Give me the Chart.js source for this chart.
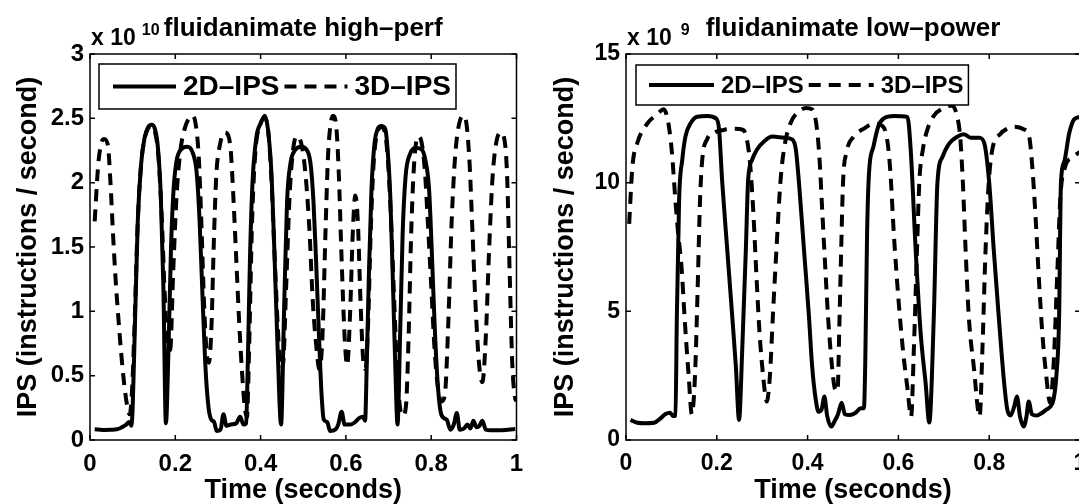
<!DOCTYPE html>
<html>
<head>
<meta charset="utf-8">
<title>fluidanimate IPS traces</title>
<script src="https://cdn.jsdelivr.net/npm/chart.js@4.4.1/dist/chart.umd.min.js"></script>
<style>
  html, body { margin: 0; padding: 0; background: #fff; overflow: hidden; }
  #wrap { position: relative; width: 1079px; height: 504px; overflow: hidden; background: #fff; }
  #hp { position: absolute; left: 0; top: 0; }
  #lp { position: absolute; left: 540px; top: 0; }
</style>
</head>
<body>
<div id="wrap">
  <canvas id="hp" width="540" height="504"></canvas>
  <canvas id="lp" width="560" height="504"></canvas>
</div>
<script>
// ---- tick values ----
const timeTicks = [0, 0.2, 0.4, 0.6, 0.8, 1];
const hpTicks = [0, 0.5, 1, 1.5, 2, 2.5, 3];   // x 10^10 instructions / second
const lpTicks = [0, 5, 10, 15];                 // x 10^9 instructions / second

// ---- high-perf configuration (IPS in units of 10^10) ----
const hpTime2D = [0.011,0.03,0.05,0.063,0.075,0.085,0.092,0.097,0.100,0.105,0.112,0.12,0.128,0.136,0.144,0.152,0.159,0.166,0.172,0.178,0.184,0.19,0.196,0.203,0.214,0.228,0.24,0.25,0.257,0.264,0.271,0.278,0.284,0.291,0.297,0.306,0.313,0.32,0.33,0.343,0.352,0.36,0.366,0.37,0.375,0.381,0.39,0.40,0.41,0.417,0.425,0.432,0.44,0.448,0.455,0.462,0.47,0.48,0.495,0.507,0.517,0.524,0.53,0.537,0.543,0.548,0.556,0.563,0.575,0.582,0.59,0.597,0.61,0.622,0.631,0.64,0.645,0.649,0.654,0.66,0.667,0.675,0.683,0.692,0.698,0.704,0.71,0.716,0.721,0.727,0.733,0.74,0.75,0.765,0.777,0.786,0.795,0.801,0.808,0.815,0.822,0.83,0.837,0.845,0.853,0.86,0.867,0.877,0.885,0.892,0.899,0.906,0.913,0.92,0.928,0.94,0.96,0.98,0.997];
const hpIps2D  = [0.083,0.078,0.08,0.083,0.10,0.12,0.14,0.11,0.25,0.85,1.70,2.15,2.35,2.43,2.45,2.42,2.28,1.90,1.20,0.13,0.70,1.50,1.95,2.17,2.26,2.28,2.24,2.08,1.70,1.10,0.55,0.25,0.16,0.14,0.07,0.08,0.20,0.11,0.12,0.13,0.18,0.12,0.13,0.60,1.40,2.00,2.35,2.46,2.52,2.42,2.10,1.50,0.70,0.12,1.00,1.85,2.15,2.25,2.28,2.26,2.15,1.85,1.40,0.80,0.35,0.16,0.14,0.07,0.08,0.12,0.22,0.12,0.12,0.14,0.17,0.18,0.15,0.60,1.30,1.95,2.30,2.42,2.44,2.42,2.25,1.90,1.25,0.55,0.12,0.80,1.60,2.05,2.22,2.27,2.26,2.18,1.95,1.50,0.90,0.45,0.22,0.17,0.155,0.08,0.12,0.21,0.08,0.09,0.12,0.09,0.15,0.10,0.11,0.15,0.08,0.075,0.075,0.08,0.085];

const hpTime3D = [0.011,0.019,0.026,0.033,0.042,0.048,0.054,0.06,0.066,0.073,0.08,0.087,0.093,0.098,0.104,0.112,0.12,0.128,0.136,0.144,0.152,0.16,0.168,0.175,0.182,0.188,0.195,0.203,0.212,0.222,0.232,0.241,0.248,0.255,0.261,0.267,0.273,0.279,0.285,0.29,0.296,0.305,0.315,0.322,0.33,0.336,0.343,0.35,0.357,0.363,0.368,0.373,0.38,0.388,0.398,0.41,0.418,0.425,0.432,0.44,0.447,0.453,0.46,0.468,0.476,0.484,0.492,0.50,0.507,0.515,0.522,0.53,0.538,0.545,0.552,0.558,0.564,0.57,0.577,0.583,0.59,0.597,0.603,0.61,0.616,0.622,0.628,0.634,0.64,0.646,0.652,0.658,0.665,0.673,0.683,0.692,0.699,0.706,0.713,0.72,0.727,0.734,0.741,0.747,0.753,0.76,0.769,0.777,0.785,0.792,0.80,0.808,0.816,0.824,0.832,0.84,0.848,0.856,0.865,0.875,0.883,0.89,0.897,0.904,0.912,0.92,0.928,0.936,0.944,0.953,0.963,0.972,0.978,0.984,0.99,0.996,1.0];
const hpIps3D  = [1.70,2.13,2.30,2.34,2.29,2.00,1.60,1.25,0.97,0.68,0.44,0.27,0.20,0.35,0.85,1.70,2.15,2.34,2.42,2.44,2.40,2.22,1.75,1.15,0.75,0.70,1.30,1.90,2.25,2.42,2.50,2.52,2.45,2.20,1.70,1.10,0.70,0.60,0.90,1.50,2.05,2.30,2.39,2.38,2.25,1.90,1.40,0.90,0.50,0.25,0.18,0.70,1.70,2.25,2.44,2.50,2.40,2.05,1.50,0.90,0.55,0.60,1.20,1.90,2.25,2.36,2.34,2.22,2.00,1.60,1.10,0.75,0.55,0.80,1.60,2.20,2.45,2.52,2.45,2.10,1.40,0.80,0.58,1.00,1.60,1.90,1.70,1.10,0.65,0.55,0.90,1.60,2.15,2.38,2.43,2.38,2.15,1.70,1.10,0.55,0.25,0.19,0.27,0.80,1.60,2.15,2.36,2.32,2.10,1.70,1.20,0.70,0.40,0.30,0.35,0.90,1.70,2.20,2.45,2.52,2.45,2.15,1.60,1.05,0.60,0.45,0.80,1.50,2.05,2.32,2.39,2.33,2.05,1.30,0.60,0.34,0.30];

// ---- low-power configuration (IPS in units of 10^9) ----
const lpTime2D = [0.010,0.025,0.042,0.062,0.076,0.087,0.097,0.104,0.109,0.112,0.117,0.124,0.131,0.142,0.157,0.179,0.198,0.205,0.212,0.223,0.234,0.242,0.249,0.256,0.264,0.269,0.278,0.289,0.304,0.322,0.348,0.366,0.374,0.381,0.392,0.403,0.41,0.418,0.424,0.431,0.437,0.443,0.452,0.46,0.467,0.475,0.482,0.493,0.505,0.517,0.524,0.527,0.531,0.535,0.545,0.556,0.568,0.59,0.62,0.627,0.638,0.649,0.66,0.668,0.678,0.686,0.697,0.711,0.73,0.744,0.759,0.778,0.789,0.80,0.81,0.821,0.833,0.84,0.847,0.855,0.861,0.868,0.876,0.882,0.887,0.894,0.905,0.915,0.925,0.935,0.942,0.948,0.954,0.958,0.965,0.976,0.987,1.0];
const lpIps2D  = [0.78,0.67,0.65,0.67,0.84,1.01,1.06,0.93,0.95,4.8,9.35,10.9,11.8,12.3,12.56,12.59,12.5,12.07,10.0,7.4,4.8,2.86,0.78,3.5,7.4,10.1,10.9,11.3,11.6,11.79,11.75,11.68,11.3,10.0,7.4,4.8,2.86,1.56,1.1,1.2,1.69,0.95,0.52,0.75,1.0,1.45,1.0,0.97,1.05,1.23,1.23,3.0,8.0,10.3,11.4,12.2,12.5,12.59,12.55,11.3,7.4,4.15,2.2,0.68,4.8,10.0,11.0,11.5,11.79,11.88,11.75,11.75,11.55,10.0,7.4,4.8,2.2,1.17,0.95,1.3,1.69,0.9,0.52,0.9,1.5,1.0,0.95,1.04,1.17,1.3,1.6,2.5,4.8,10.0,10.8,11.9,12.46,12.55];

const lpTime3D = [0.007,0.014,0.025,0.047,0.069,0.083,0.09,0.096,0.102,0.108,0.115,0.122,0.13,0.138,0.145,0.152,0.158,0.163,0.168,0.179,0.195,0.215,0.24,0.258,0.266,0.273,0.28,0.287,0.294,0.302,0.31,0.317,0.324,0.332,0.34,0.348,0.362,0.38,0.397,0.41,0.419,0.426,0.432,0.438,0.445,0.453,0.46,0.466,0.47,0.474,0.478,0.486,0.502,0.524,0.546,0.565,0.575,0.582,0.59,0.60,0.61,0.62,0.628,0.634,0.641,0.646,0.654,0.664,0.678,0.70,0.718,0.729,0.736,0.742,0.748,0.755,0.766,0.779,0.785,0.792,0.799,0.807,0.825,0.84,0.855,0.877,0.888,0.895,0.902,0.91,0.917,0.925,0.934,0.942,0.95,0.957,0.967,0.985,1.0];
const lpIps3D  = [8.4,10.6,11.55,12.3,12.66,12.85,12.6,12.0,11.0,9.5,8.0,6.8,4.5,2.5,1.0,2.5,6.0,9.3,10.9,11.7,11.95,12.05,12.1,12.05,11.7,10.8,9.0,6.5,4.2,2.5,1.5,2.5,5.0,7.6,10.0,11.3,12.3,12.75,12.9,12.85,12.3,11.0,9.0,7.0,4.8,3.0,2.0,1.9,4.5,7.4,10.0,11.2,11.8,12.1,12.3,12.2,11.7,10.5,8.0,5.5,3.5,2.0,0.9,3.5,7.4,10.0,11.3,12.07,12.6,12.9,13.0,12.6,11.8,10.0,7.4,4.8,2.86,0.91,3.5,7.4,10.0,11.3,11.9,12.1,12.17,12.07,11.8,10.6,8.7,6.1,4.15,2.6,1.45,3.0,6.5,9.5,10.6,11.0,11.2];

const FONT = '"Liberation Sans", Arial, Helvetica, sans-serif';
Chart.defaults.font.family = FONT;
Chart.defaults.font.weight = 'bold';
Chart.defaults.color = '#000';

const pts = (ts, vs) => ts.map((t, i) => ({ x: t, y: vs[i] }));

// Boxed axes with inward tick marks, a boxed legend inside the plot, the
// title and the exponent label above the top-left corner.
const axesDecor = {
  id: 'axesDecor',
  afterDatasetsDraw(chart, args, o) {
    const { ctx, chartArea: a, scales: { x, y } } = chart;
    ctx.save();
    ctx.strokeStyle = '#000';
    ctx.fillStyle = '#000';
    ctx.setLineDash([]);
    ctx.lineWidth = 1.5;
    ctx.strokeRect(a.left, a.top, a.right - a.left, a.bottom - a.top);

    const len = o.tickLen;
    ctx.beginPath();
    x.ticks.forEach(t => {
      const p = x.getPixelForValue(t.value);
      ctx.moveTo(p, a.bottom); ctx.lineTo(p, a.bottom - len);
      ctx.moveTo(p, a.top); ctx.lineTo(p, a.top + len);
    });
    y.ticks.forEach(t => {
      const p = y.getPixelForValue(t.value);
      ctx.moveTo(a.left, p); ctx.lineTo(a.left + len, p);
      ctx.moveTo(a.right, p); ctx.lineTo(a.right - len, p);
    });
    ctx.stroke();

    // legend
    const L = o.legend;
    const sets = chart.data.datasets;
    ctx.font = `bold ${L.font}px ${FONT}`;
    let w = L.pad;
    sets.forEach(d => { w += L.sample + L.gap + ctx.measureText(d.label).width + L.tail; });
    const bx = a.left + L.dx, by = a.top + L.dy;
    ctx.fillStyle = '#fff';
    ctx.fillRect(bx, by, w, L.h);
    ctx.lineWidth = 1.5;
    ctx.strokeRect(bx, by, w, L.h);
    let cx = bx + L.pad;
    const cy = by + L.h / 2;
    sets.forEach(d => {
      ctx.beginPath();
      ctx.setLineDash(d.borderDash || []);
      ctx.lineWidth = d.borderWidth;
      ctx.moveTo(cx, cy);
      ctx.lineTo(cx + L.sample, cy);
      ctx.stroke();
      ctx.setLineDash([]);
      cx += L.sample + L.gap;
      ctx.fillStyle = '#000';
      ctx.textAlign = 'left';
      ctx.textBaseline = 'middle';
      ctx.fillText(d.label, cx, cy + L.textDy);
      cx += ctx.measureText(d.label).width + L.tail;
    });

    // title
    ctx.fillStyle = '#000';
    ctx.textAlign = 'center';
    ctx.textBaseline = 'alphabetic';
    ctx.font = `bold ${o.titleSize}px ${FONT}`;
    ctx.fillText(o.title, (a.left + a.right) / 2, o.titleBase);

    // exponent label
    ctx.textAlign = 'left';
    ctx.font = `bold 23px ${FONT}`;
    const base = 'x 10';
    ctx.fillText(base, a.left + 1, 45);
    const bw = ctx.measureText(base).width;
    ctx.font = `bold 16px ${FONT}`;
    ctx.fillText(o.power, a.left + 1 + bw + o.powerGap, 35);
    ctx.restore();
  }
};

function makeChart(id, cfg) {
  return new Chart(document.getElementById(id), {
    type: 'line',
    data: {
      datasets: [
        { label: '2D–IPS', data: pts(cfg.t2, cfg.v2), borderColor: '#000', borderWidth: 4,
          pointRadius: 0, fill: false, cubicInterpolationMode: 'monotone', borderJoinStyle: 'round' },
        { label: '3D–IPS', data: pts(cfg.t3, cfg.v3), borderColor: '#000', borderWidth: 4,
          borderDash: [12, 8], pointRadius: 0, fill: false, cubicInterpolationMode: 'monotone', borderJoinStyle: 'round' }
      ]
    },
    options: {
      responsive: false,
      animation: false,
      devicePixelRatio: 1,
      layout: { padding: { top: 54, right: cfg.padRight, left: 0, bottom: 0 } },
      plugins: {
        legend: { display: false },
        tooltip: { enabled: false },
        axesDecor: cfg.decor
      },
      scales: {
        x: {
          type: 'linear', min: 0, max: 1,
          afterBuildTicks: s => { s.ticks = timeTicks.map(v => ({ value: v })); },
          afterFit: s => { s.height = 64; },
          grid: { display: false, drawTicks: false },
          border: { display: false },
          ticks: { font: { size: cfg.tickSize }, padding: 10, maxRotation: 0, autoSkip: false, callback: v => `${v}` },
          title: { display: true, text: 'Time (seconds)', font: { size: 27, lineHeight: 1 }, padding: 0 }
        },
        y: {
          type: 'linear', min: 0, max: cfg.yMax,
          afterBuildTicks: s => { s.ticks = cfg.yTicks.map(v => ({ value: v })); },
          afterFit: s => { s.width = cfg.yWidth; },
          grid: { display: false, drawTicks: false },
          border: { display: false },
          ticks: { font: { size: cfg.tickSize }, padding: 6, autoSkip: false, callback: v => `${v}` },
          title: { display: true, text: 'IPS (instructions / second)', font: { size: 27, lineHeight: 1 },
                   padding: { top: cfg.yTitlePad, bottom: 0 } }
        }
      }
    },
    plugins: [axesDecor]
  });
}

makeChart('hp', {
  t2: hpTime2D, v2: hpIps2D, t3: hpTime3D, v3: hpIps3D,
  yMax: 3, yTicks: hpTicks, yWidth: 90, padRight: 23.5, tickSize: 24, yTitlePad: 15,
  decor: {
    tickLen: 5, title: 'fluidanimate high–perf', titleSize: 26, titleBase: 36, power: '10', powerGap: 6,
    legend: { dx: 9, dy: 10, h: 45, font: 28, pad: 14, sample: 63, gap: 7, tail: 5, textDy: 1 }
  }
});

makeChart('lp', {
  t2: lpTime2D, v2: lpIps2D, t3: lpTime3D, v3: lpIps3D,
  yMax: 15, yTicks: lpTicks, yWidth: 86, padRight: 20, tickSize: 23, yTitlePad: 12,
  decor: {
    tickLen: 5, title: 'fluidanimate low–power', titleSize: 26, titleBase: 36, power: '9', powerGap: 9,
    legend: { dx: 10, dy: 11, h: 40, font: 24, pad: 13, sample: 65, gap: 7, tail: 5, textDy: 1 }
  }
});
</script>
</body>
</html>
